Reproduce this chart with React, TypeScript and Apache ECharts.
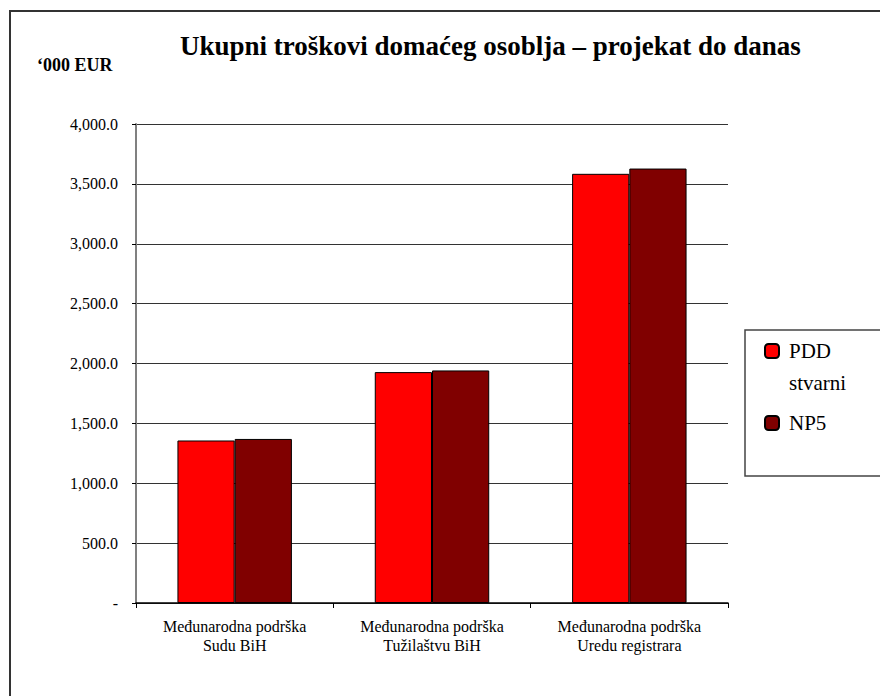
import React, { useEffect, useRef } from "react";
import * as echarts from "echarts";

const categories = [
  "Međunarodna podrška\nSudu BiH",
  "Međunarodna podrška\nTužilaštvu BiH",
  "Međunarodna podrška\nUredu registrara",
];
const seriesNames = ["PDD stvarni", "NP5"];
const pddValues = [1357, 1928, 3584];
const np5Values = [1370, 1942, 3628];
const yMin = 0;
const yMax = 4000;
const yInterval = 500;
const titleText = "Ukupni troškovi domaćeg osoblja – projekat do danas";
const unitText = "‘000 EUR";

const FONT = "Liberation Serif";

export default function App() {
  const ref = useRef<HTMLDivElement>(null);
  useEffect(() => {
    if (!ref.current) return;
    const chart = echarts.init(ref.current, null, { renderer: "svg" });
    const fmt = (v: number) =>
      v === 0
        ? "-"
        : v.toLocaleString("en-US", { minimumFractionDigits: 1, maximumFractionDigits: 1 });
    chart.setOption({
      animation: false,
      backgroundColor: "#fff",
      textStyle: { fontFamily: FONT },
      title: [
        {
          text: titleText,
          left: 180,
          top: 32,
          padding: 0,
          textStyle: { fontFamily: FONT, fontSize: 27, fontWeight: "bold", color: "#000", lineHeight: 28 },
        },
        {
          text: unitText,
          left: 37,
          top: 56,
          padding: 0,
          textStyle: { fontFamily: FONT, fontSize: 18, fontWeight: "bold", color: "#000", lineHeight: 18 },
        },
      ],
      legend: [
        {
          data: [seriesNames[0]],
          orient: "vertical",
          left: 764,
          top: 303,
          padding: 0,
          itemWidth: 14,
          itemHeight: 14,
          formatter: (n: string) => "\n" + n.replace(" ", "\n"),
          textStyle: { fontFamily: FONT, fontSize: 21, fontWeight: "normal", color: "#000", lineHeight: 32, padding: [0, 0, 0, 5] },
        },
        {
          data: [seriesNames[1]],
          orient: "vertical",
          left: 764,
          top: 407,
          padding: 0,
          itemWidth: 14,
          itemHeight: 14,
          textStyle: { fontFamily: FONT, fontSize: 21, fontWeight: "normal", color: "#000", lineHeight: 32, padding: [0, 0, 0, 5] },
        },
      ],
      graphic: [
        {
          type: "rect",
          shape: { x: 10, y: 11, width: 900, height: 720 },
          style: { fill: "none", stroke: "#333", lineWidth: 2 },
          silent: true,
        },
        {
          type: "rect",
          shape: { x: 745, y: 330, width: 200, height: 146 },
          style: { fill: "none", stroke: "#444", lineWidth: 1.5 },
          silent: true,
        },
      ],
      grid: { left: 136, top: 124, width: 592, height: 479, containLabel: false },
      xAxis: {
        type: "category",
        data: categories,
        axisLine: { lineStyle: { color: "#000", width: 1.5 } },
        axisTick: { show: true, length: 5, lineStyle: { color: "#000" } },
        axisLabel: { fontFamily: FONT, fontSize: 16, fontWeight: "normal", color: "#000", lineHeight: 19, margin: 14 },
      },
      yAxis: {
        type: "value",
        min: yMin,
        max: yMax,
        interval: yInterval,
        axisLine: { show: true, lineStyle: { color: "#808080", width: 2 } },
        axisTick: { show: true, length: 4, lineStyle: { color: "#000" } },
        axisLabel: { fontFamily: FONT, fontSize: 16, fontWeight: "normal", color: "#000", margin: 18, formatter: fmt },
        splitLine: { show: true, lineStyle: { color: "#333", width: 1 } },
      },
      series: [
        {
          name: seriesNames[0],
          type: "bar",
          data: pddValues,
          barGap: "0%",
          barCategoryGap: "42%",
          itemStyle: { color: "#FF0000", borderColor: "#000", borderWidth: 1 },
        },
        {
          name: seriesNames[1],
          type: "bar",
          data: np5Values,
          barGap: "0%",
          barCategoryGap: "42%",
          itemStyle: { color: "#800000", borderColor: "#000", borderWidth: 1 },
        },
      ],
    });
    return () => chart.dispose();
  }, []);
  return (
    <div
      ref={ref}
      style={{ position: "fixed", left: 0, top: 0, width: 880, height: 696 }}
    />
  );
}
